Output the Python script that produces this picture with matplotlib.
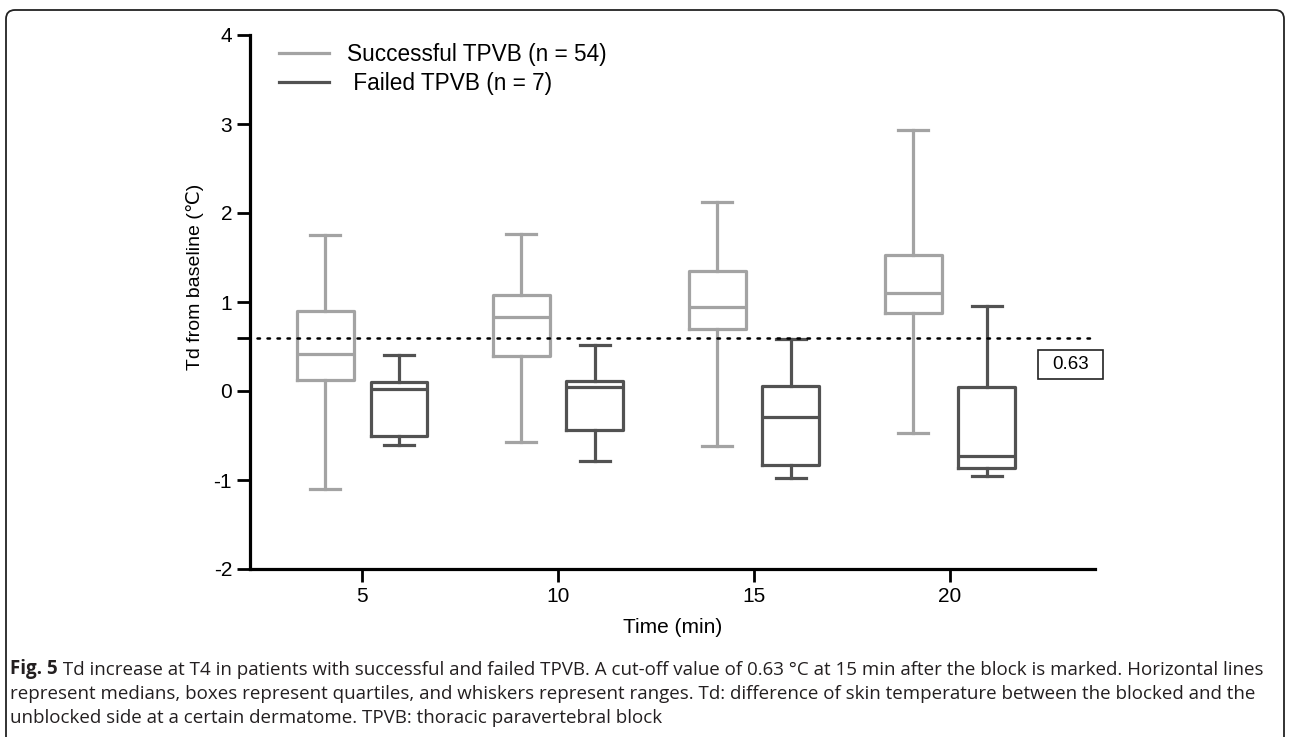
import matplotlib
matplotlib.use("Agg")
import matplotlib.pyplot as plt
from matplotlib.patches import FancyBboxPatch, Rectangle
from matplotlib.transforms import IdentityTransform

# ---------------- data ----------------
times = [5, 10, 15, 20]
tick_labels = ["5", "10", "15", "20"]

succ_max = [1.75, 1.76, 2.12, 2.93]
succ_q3 = [0.90, 1.08, 1.35, 1.53]
succ_med = [0.42, 0.83, 0.94, 1.10]
succ_q1 = [0.12, 0.39, 0.70, 0.88]
succ_min = [-1.10, -0.57, -0.62, -0.47]

fail_max = [0.41, 0.52, 0.58, 0.95]
fail_q3 = [0.10, 0.11, 0.06, 0.05]
fail_med = [0.02, 0.05, -0.29, -0.73]
fail_q1 = [-0.50, -0.44, -0.83, -0.87]
fail_min = [-0.61, -0.79, -0.98, -0.96]

cutoff_line = 0.6
cutoff_label = "0.63"
legend_labels = ["Successful TPVB (n = 54)", " Failed TPVB (n = 7)"]

caption_bold = "Fig. 5"
caption_lines = [
    " Td increase at T4 in patients with successful and failed TPVB. A cut-off value of 0.63 \u00b0C at 15 min after the block is marked. Horizontal lines",
    "represent medians, boxes represent quartiles, and whiskers represent ranges. Td: difference of skin temperature between the blocked and the",
    "unblocked side at a certain dermatome. TPVB: thoracic paravertebral block",
]

# ---------------- style ----------------
W, H, DPI = 1290, 737, 100
plt.rcParams['font.family'] = ['Liberation Sans', 'DejaVu Sans']
plt.rcParams['axes.unicode_minus'] = False
succ_color = '#a3a3a3'
fail_color = '#525252'
lw = 2.3

fig = plt.figure(figsize=(W / DPI, H / DPI), dpi=DPI)
ax = fig.add_axes([250 / W, (H - 569) / H, 845 / W, 534 / H])


def stats(mn, q1, med, q3, mx):
    return [dict(whislo=a, q1=b, med=c, q3=d, whishi=e, fliers=[])
            for a, b, c, d, e in zip(mn, q1, med, q3, mx)]


offset = 0.94
bw = 1.45
capw = 0.77
for st, col, sgn in [(stats(succ_min, succ_q1, succ_med, succ_q3, succ_max), succ_color, -1),
                     (stats(fail_min, fail_q1, fail_med, fail_q3, fail_max), fail_color, 1)]:
    pos = [t + sgn * offset for t in times]
    props = dict(color=col, linewidth=lw)
    ax.bxp(st, positions=pos, widths=bw, capwidths=capw, showfliers=False,
           boxprops=props, whiskerprops=props, capprops=props, medianprops=props,
           manage_ticks=False)

ax.set_xlim(2.14, 23.7)
ax.set_ylim(-2, 4)
ax.set_xticks(times)
ax.set_xticklabels(tick_labels)
ax.set_yticks([-2, -1, 0, 1, 2, 3, 4])
ax.set_yticks([cutoff_line], minor=True)
ax.tick_params(axis='y', which='minor', length=9.4, width=2.0, direction='out')
ax.tick_params(axis='both', which='major', length=9.4, width=2.0, labelsize=15,
               direction='out', pad=3.5)
for s in ['top', 'right']:
    ax.spines[s].set_visible(False)
for s in ['left', 'bottom']:
    ax.spines[s].set_linewidth(2.3)

# cut-off dotted line
ax.plot([2.32, 23.62], [cutoff_line, cutoff_line], color='black', lw=1.8,
        linestyle=(0, (1, 3.0)), dash_capstyle='round', clip_on=False, zorder=3)

# 0.63 label box
ax.add_patch(Rectangle((22.24, 0.135), 23.9 - 22.24, 0.46 - 0.135, fill=False,
                       ec='#222222', lw=1.2, clip_on=False))
ax.text(23.07, 0.30, cutoff_label, ha='center', va='center', fontsize=13.5)

# legend
h1, = ax.plot([], [], color=succ_color, lw=lw)
h2, = ax.plot([], [], color=fail_color, lw=lw)
leg = ax.legend([h1, h2], legend_labels, loc='upper left', bbox_to_anchor=(0.0343, 0.985),
                frameon=False, fontsize=16.3, handlelength=2.2, handletextpad=0.8,
                labelspacing=0.28, borderpad=0, borderaxespad=0)

ax.set_ylabel("Td from baseline (\u2103)", fontsize=14)
ax.yaxis.set_label_coords(-0.0544, 0.547)
ax.set_xlabel("Time (min)", fontsize=15)
ax.xaxis.set_label_coords(0.5, -0.092)

# caption
cap_color = '#231f20'
cap_kw = dict(fontsize=13.5, family=['Open Sans', 'DejaVu Sans'], color=cap_color)
centers = [669, 694, 718]
t0 = fig.text(10 / W, 1 - centers[0] / H, caption_bold, ha='left', va='center',
              fontweight='bold', **cap_kw)
ax.annotate(caption_lines[0], xy=(1, 0), xycoords=t0, ha='left', va='bottom',
            annotation_clip=False, **cap_kw)
for c, line in zip(centers[1:], caption_lines[1:]):
    fig.text(10 / W, 1 - c / H, line, ha='left', va='center', **cap_kw)

# rounded frame
frame = FancyBboxPatch((6, -30), 1283 - 6 + 1, H - 10 + 30,
                       boxstyle="round,pad=0,rounding_size=9",
                       transform=IdentityTransform(), fill=False, ec='#222222', lw=1.3)
fig.patches.append(frame)

fig.savefig("out.png", dpi=DPI)
